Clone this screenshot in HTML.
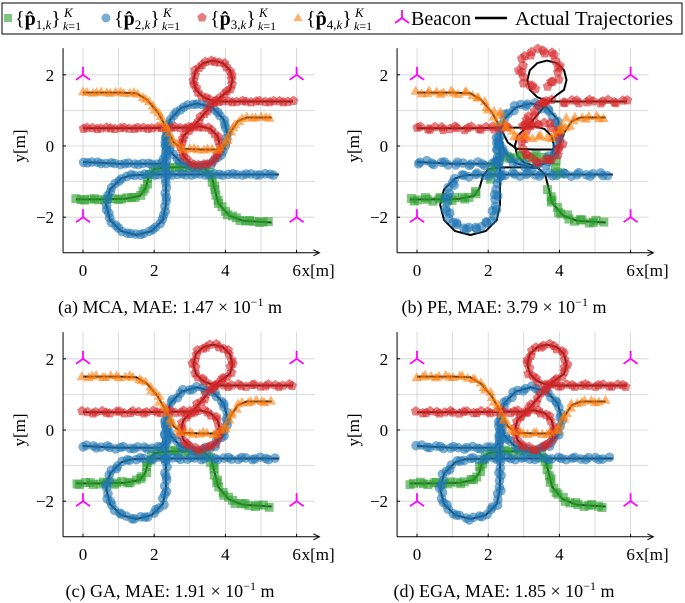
<!DOCTYPE html>
<html><head><meta charset="utf-8">
<style>
html,body{margin:0;padding:0;background:#fff;}
svg{display:block;font-family:"Liberation Serif",serif;}
</style></head>
<body>
<svg id="fig" width="685" height="603" viewBox="0 0 685 603" xmlns="http://www.w3.org/2000/svg">
  <g>
    <rect x="2" y="3" width="680" height="31" fill="#fff" stroke="#000" stroke-width="1"/>
    <rect x="4" y="14" width="8" height="8" fill="#2ca02c" opacity="0.6"/>
    <g>
      <text x="15" y="25" font-size="20">{<tspan font-weight="bold">p̂</tspan><tspan font-size="13" dy="4">1,<tspan font-style="italic">k</tspan></tspan><tspan dy="-4">}</tspan></text>
      <text x="64" y="17" font-size="13" font-style="italic">K</text>
      <text x="63" y="30" font-size="12"><tspan font-style="italic">k</tspan>=1</text>
    </g>
    <circle cx="106" cy="18" r="4.5" fill="#1f77b4" opacity="0.6"/>
    <g>
      <text x="114" y="25" font-size="20">{<tspan font-weight="bold">p̂</tspan><tspan font-size="13" dy="4">2,<tspan font-style="italic">k</tspan></tspan><tspan dy="-4">}</tspan></text>
      <text x="163" y="17" font-size="13" font-style="italic">K</text>
      <text x="162" y="30" font-size="12"><tspan font-style="italic">k</tspan>=1</text>
    </g>
    <polygon points="202,12.5 206.8,16 205,21.5 199,21.5 197.2,16" fill="#d62728" opacity="0.6"/>
    <g>
      <text x="210" y="25" font-size="20">{<tspan font-weight="bold">p̂</tspan><tspan font-size="13" dy="4">3,<tspan font-style="italic">k</tspan></tspan><tspan dy="-4">}</tspan></text>
      <text x="259" y="17" font-size="13" font-style="italic">K</text>
      <text x="258" y="30" font-size="12"><tspan font-style="italic">k</tspan>=1</text>
    </g>
    <polygon points="298,13 302.5,21 293.5,21" fill="#ff7f0e" opacity="0.6"/>
    <g>
      <text x="306" y="25" font-size="20">{<tspan font-weight="bold">p̂</tspan><tspan font-size="13" dy="4">4,<tspan font-style="italic">k</tspan></tspan><tspan dy="-4">}</tspan></text>
      <text x="355" y="17" font-size="13" font-style="italic">K</text>
      <text x="354" y="30" font-size="12"><tspan font-style="italic">k</tspan>=1</text>
    </g>
    <g stroke="#ff00ff" stroke-width="1.8">
      <line x1="402" y1="18" x2="402" y2="10"/><line x1="402" y1="18" x2="395" y2="23"/><line x1="402" y1="18" x2="409" y2="23"/>
    </g>
    <text x="411" y="25" font-size="20">Beacon</text>
    <line x1="475" y1="18" x2="507" y2="18" stroke="#000" stroke-width="2.5"/>
    <text x="515" y="25" font-size="20" textLength="158" lengthAdjust="spacingAndGlyphs">Actual Trajectories</text>
  </g>
</svg>
<script>
// ---- data (meters) ----
const green = [[-0.2,-1.5],[0.5,-1.5],[1.2,-1.48],[1.6,-1.4],[1.75,-1.2],[1.85,-0.85],[2.0,-0.65],[2.4,-0.6],[3.0,-0.6],[3.4,-0.62],[3.6,-0.8],[3.7,-1.2],[3.8,-1.6],[4.1,-1.95],[4.5,-2.1],[5.3,-2.15]];
const blue = [[0,-0.45],[1,-0.5],[2.2,-0.5],[2.33,-0.3],[2.33,0.3],[2.45,0.75],[2.77,1.08],[3.2,1.2],[3.64,1.08],[3.95,0.75],[4.07,0.3],[3.95,-0.15],[3.64,-0.48],[3.2,-0.6],[2.77,-0.48],[2.45,-0.15],[2.33,0.3],[2.33,-0.8],[2.33,-1.65],[2.24,-2.08],[1.93,-2.39],[1.5,-2.5],[1.07,-2.39],[0.76,-2.08],[0.65,-1.65],[0.76,-1.22],[1.07,-0.91],[1.35,-0.82],[2.0,-0.8],[3.5,-0.8],[5.5,-0.8]];
const red = [[0,0.5],[1.5,0.5],[3.0,0.52],[3.3,0.55],[3.58,0.48],[3.78,0.28],[3.85,0],[3.78,-0.28],[3.58,-0.48],[3.3,-0.55],[3.02,-0.48],[2.82,-0.28],[2.75,0],[2.82,0.28],[3.1,0.55],[3.4,0.9],[3.7,1.25],[3.95,1.45],[4.13,1.58],[4.2,1.85],[4.13,2.13],[3.93,2.33],[3.65,2.4],[3.38,2.33],[3.17,2.13],[3.1,1.85],[3.17,1.58],[3.38,1.37],[3.7,1.25],[4.5,1.25],[5.9,1.25]];
const orange = [[0,1.5],[1,1.5],[1.5,1.48],[1.8,1.3],[2.1,0.95],[2.35,0.5],[2.55,0.1],[2.8,-0.08],[3.3,-0.1],[3.8,-0.1],[4.0,0.05],[4.15,0.4],[4.35,0.7],[4.6,0.8],[5.3,0.8]];
const beacons = [[0,2],[6,2],[0,-2],[6,-2]];
const xTicks = [0,2,4,6];
const yTicks = [-2,0,2];
const captions = ["(a) MCA, MAE: 1.47 × 10","(b) PE, MAE: 3.79 × 10","(c) GA, MAE: 1.91 × 10","(d) EGA, MAE: 1.85 × 10"];
const panelNames = ["mca","pe","ga","ega"];

const NS = "http://www.w3.org/2000/svg";
const svg = document.getElementById('fig');
function mk(tag, attrs, parent){ const e=document.createElementNS(NS,tag); for(const k in attrs) e.setAttribute(k,attrs[k]); parent.appendChild(e); return e; }

const S = 35.6;
const offs = [[0,0],[334,0],[0,284],[334,284]];

function resample(pts, step){
  const out=[];
  let carry=0;
  out.push(pts[0]);
  for(let i=1;i<pts.length;i++){
    const [x0,y0]=pts[i-1],[x1,y1]=pts[i];
    const L=Math.hypot(x1-x0,y1-y0);
    let d=step-carry;
    while(d<=L){ const t=d/L; out.push([x0+(x1-x0)*t,y0+(y1-y0)*t]); d+=step; }
    carry=L-(d-step);
  }
  return out;
}
function distortB(series, p){
  let [x,y]=p;
  if(series==='red'){ if(y>1.3 && x<4.3){ x-=0.2; y+=0.3; } else if(y>0.6 && y<1.3 && x<4){ x-=0.15; } else if(y<0.6 && x>2.6){ x+=0.2; y+=0.1; } }
  if(series==='blue'){ if(y<-1.0 && x<2.4){ const cx=1.6,cy=-1.4; x=cx+(x-cx)*0.85; y=cy+(y-cy)*0.85; } if(y>-0.4 && y<1.3 && x>2.3){ x-=0.05; } }
  if(series==='green'){ if(y>-1.4 && x>1.7 && x<3.7){ y+=0.3; x+=0.3; } }
  if(series==='orange'){ if(y<0.6 && x>2.3 && x<4.2){ y+=0.35; } }
  return [x,y];
}

offs.forEach((o,pi)=>{
  const g = mk('g',{},svg);
  
  
  const x0 = 83+o[0], y0 = 146+o[1];
  const X = v=>x0+v*S, Y = v=>y0-v*S;
  const left = X(-0.56), right = X(6.5), top = Y(2.75), bottom = Y(-3);
  const grid = mk('g',{stroke:'#d0d0d0','stroke-width':0.8},g);
  
  
  for(let v=0; v<=6; v++) mk('line',{x1:X(v),x2:X(v),y1:top,y2:bottom},grid);
  for(let v=-2; v<=2; v++) mk('line',{x1:left,x2:right,y1:Y(v),y2:Y(v)},grid);
  const ax = mk('g',{stroke:'#000','stroke-width':1},g);
  
  
  mk('line',{x1:left,x2:left,y1:top,y2:bottom},ax);
  mk('line',{x1:left,x2:right+4,y1:bottom,y2:bottom},ax);
  mk('path',{d:`M${right-1},${bottom-3} L${right+5},${bottom} L${right-1},${bottom+3}`,fill:'none'},ax);
  xTicks.forEach(v=>{
    mk('line',{x1:X(v),x2:X(v),y1:bottom,y2:bottom-3},ax);
    const t=mk('text',{x:X(v),y:bottom+23,'text-anchor':'middle','font-size':17},g);
    t.textContent = v<0?'−'+(-v):String(v);
    
    
  });
  yTicks.forEach(v=>{
    mk('line',{x1:left,x2:left+3,y1:Y(v),y2:Y(v)},ax);
    const t=mk('text',{x:left-9,y:Y(v)+6,'text-anchor':'end','font-size':17},g);
    t.textContent = v<0?'−'+(-v):String(v);
    
    
  });
  const xl=mk('text',{x:X(6)+5,y:bottom+23,'font-size':17},g);
  xl.textContent='x[m]';
  
  
  const yl=mk('text',{x:0,y:0,'font-size':17,'text-anchor':'middle',transform:`translate(${left-38},${y0}) rotate(-90)`},g);
  yl.textContent='y[m]';
  
  
  beacons.forEach(b=>{
    const bg=mk('g',{stroke:'#ff00ff','stroke-width':1.8},g);
    
    
    const cx=X(b[0]),cy=Y(b[1]);
    mk('line',{x1:cx,y1:cy,x2:cx,y2:cy-8},bg);
    mk('line',{x1:cx,y1:cy,x2:cx-7,y2:cy+5},bg);
    mk('line',{x1:cx,y1:cy,x2:cx+7,y2:cy+5},bg);
  });
  const series=[['green',green,'#2ca02c','sq'],['blue',blue,'#1f77b4','ci'],['red',red,'#d62728','pe'],['orange',orange,'#ff7f0e','tr']];
  series.forEach(([nm,pts])=>{
    const p=mk('polyline',{points:pts.map(q=>X(q[0])+','+Y(q[1])).join(' '),fill:'none',stroke:'#000','stroke-width':2,'stroke-linejoin':'round'},g);
    
    
  });
  series.forEach(([nm,pts,col,shape],si)=>{
    const mg=mk('g',{fill:col,'fill-opacity':0.6},g);
    
    
    resample(pts,0.13).forEach((q,k)=>{
      let p=q;
      if(pi===1) p=distortB(nm,q);
      const jit = (pi===0?0.02:pi===1?0.05:0.035);
      const px=X(p[0]+jit*Math.sin(k*2.3+si+pi)), py=Y(p[1]+jit*Math.cos(k*1.7+si*2+pi));
      let m;
      if(shape==='sq') m=mk('rect',{x:px-4.5,y:py-4.5,width:9,height:9},mg);
      else if(shape==='ci') m=mk('circle',{cx:px,cy:py,r:4.8},mg);
      else if(shape==='pe'){ const r=5.2,a=[]; for(let j=0;j<5;j++){const t=-Math.PI/2+j*2*Math.PI/5; a.push((px+r*Math.cos(t))+','+(py+r*Math.sin(t)));} m=mk('polygon',{points:a.join(' ')},mg); }
      else m=mk('polygon',{points:`${px},${py-5.5} ${px+5.2},${py+3.5} ${px-5.2},${py+3.5}`},mg);
      
      
    });
  });
  const cap=mk('text',{x:x0+87,y:(pi<2?313:597),'text-anchor':'middle','font-size':18},g);
  cap.textContent=captions[pi];
  const sup=mk('tspan',{dy:-7,'font-size':12},cap); sup.textContent='−1';
  const un=mk('tspan',{dy:7},cap); un.textContent=' m';
  
  
});
</script>
</body></html>
